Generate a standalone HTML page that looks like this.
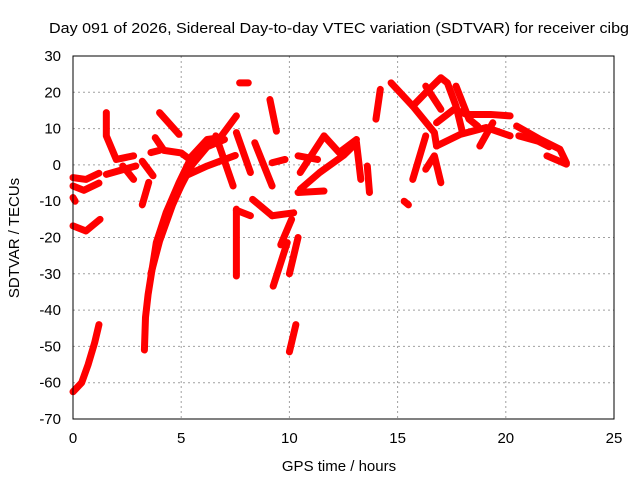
<!DOCTYPE html>
<html><head><meta charset="utf-8"><style>
body{margin:0;background:#fff;}
svg{display:block;font-family:"Liberation Sans",sans-serif;}
</style></head><body>
<svg id="chart" width="640" height="480" viewBox="0 0 640 480">
<rect width="640" height="480" fill="#fff"/>
<text x="339" y="33" font-size="15" text-anchor="middle" textLength="580" lengthAdjust="spacingAndGlyphs">Day 091 of 2026, Sidereal Day-to-day VTEC variation (SDTVAR) for receiver cibg</text>
<text x="339" y="471" font-size="15" text-anchor="middle">GPS time / hours</text>
<text transform="translate(19,238) rotate(-90)" font-size="15" text-anchor="middle">SDTVAR / TECUs</text>
<g id="grid"></g><g id="ticks"></g><g id="series"></g>
<rect x="73" y="56" width="541" height="363" fill="none" stroke="#000" stroke-width="1"/>
</svg>
<script>
const xTicks=[0,5,10,15,20,25];
const yTicks=[30,20,10,0,-10,-20,-30,-40,-50,-60,-70];
const tracks=[
[[0,-62.5],[0.4,-60],[0.7,-55],[1.0,-49],[1.2,-44]],
[[0,-3.5],[0.6,-4],[1.2,-2.3]],
[[0,-5.8],[0.5,-7],[1.2,-5]],
[[0,-9],[0.1,-10]],
[[0,-16.8],[0.6,-18.2],[1.25,-15]],
[[1.54,14.4],[1.54,8],[2,1.5],[2.8,2.5]],
[[1.54,-2.6],[2.9,-0.3]],
[[2.3,-0.3],[2.8,-4]],
[[4,14.4],[4.9,8.4]],
[[3.8,7.5],[4.2,4],[5,3.3],[5.4,1.5]],
[[3.6,3.4],[4,4]],
[[3.2,1],[3.7,-3]],
[[3.5,-4.8],[3.2,-11]],
[[3.3,-51],[3.35,-42],[3.47,-35.7],[3.85,-21.4],[4.3,-13.2],[4.9,-4.9],[5.5,2.5],[6.2,7],[6.8,7.5],[7.55,13.5]],
[[3.6,-30],[4,-21],[4.6,-11],[5.2,-3],[6.2,-0.3],[7.5,2.6]],
[[4.1,-18],[4.8,-8],[5.5,0],[6.2,5],[7,7]],
[[6.6,8],[7.4,-5.8]],
[[7.55,8.9],[8.2,-2.1]],
[[8.4,6.1],[9.2,-5.8]],
[[9.1,18],[9.4,9.3]],
[[9.2,0.6],[9.8,1.5]],
[[7.7,22.6],[8.1,22.6]],
[[7.55,-12.2],[7.55,-30.6]],
[[7.55,-12.5],[8.2,-14]],
[[8.3,-9.5],[9.2,-14]],
[[9.25,-33.4],[9.9,-21.4]],
[[9.2,-14],[10.2,-13.2]],
[[9.6,-22],[10.1,-15]],
[[10,-51.5],[10.3,-44]],
[[10,-30],[10.4,-20]],
[[10.4,-7.6],[11.6,-7.2]],
[[10.5,-2.1],[11.6,8],[12.3,3.4],[13.1,7]],
[[10.5,-6.7],[11.4,-2.1],[12.5,2.6],[13.1,6.1]],
[[13.1,6.1],[13.3,-4]],
[[13.6,-0.3],[13.7,-7.6]],
[[10.4,2.5],[11.3,1.5]],
[[14.2,20.8],[14,12.6]],
[[15.3,-10],[15.5,-11]],
[[14.7,22.6],[15.7,16.2],[16.7,8.9],[16.8,5.2]],
[[15.7,16.2],[16.3,19.9],[17,24],[17.3,22.6],[17.7,16.2],[18,8.9]],
[[17.7,21.7],[18.3,12.6],[18.7,10.7]],
[[16.3,21.7],[17,15.3]],
[[16.8,11.6],[17.6,15.3],[18.2,13.9],[19.3,13.9],[20.2,13.5]],
[[16.8,5.2],[17.9,8.4],[19.1,10.3],[20.2,8]],
[[18.8,5.2],[19.4,11.6]],
[[20.5,10.7],[21.6,7.0],[22.5,4.3],[22.8,0.6]],
[[20.6,8],[21.5,6.5],[22,5]],
[[21.9,2.5],[22.8,0.2]],
[[15.7,-4],[16.3,8]],
[[16.3,-1.2],[16.7,2.5],[17,-4.9]]
];
const NS="http://www.w3.org/2000/svg";
const X=h=>73+h*(541/25);
const Y=v=>56+(30-v)*(363/100);
const grid=document.getElementById('grid'),ticks=document.getElementById('ticks'),ser=document.getElementById('series');
xTicks.forEach(t=>{
 const l=document.createElementNS(NS,'line');
 
 
 l.setAttribute('x1',X(t));l.setAttribute('x2',X(t));l.setAttribute('y1',56);l.setAttribute('y2',419);
 l.setAttribute('stroke','#a0a0a0');l.setAttribute('stroke-dasharray','2,3');grid.appendChild(l);
 const tx=document.createElementNS(NS,'text');
 
 
 tx.setAttribute('x',X(t));tx.setAttribute('y',443);tx.setAttribute('font-size','15');tx.setAttribute('text-anchor','middle');
 tx.textContent=t;ticks.appendChild(tx);
});
yTicks.forEach(t=>{
 const l=document.createElementNS(NS,'line');
 
 
 l.setAttribute('x1',73);l.setAttribute('x2',614);l.setAttribute('y1',Y(t));l.setAttribute('y2',Y(t));
 l.setAttribute('stroke','#a0a0a0');l.setAttribute('stroke-dasharray','2,3');grid.appendChild(l);
 const tx=document.createElementNS(NS,'text');
 
 
 tx.setAttribute('x',61);tx.setAttribute('y',Y(t)+5);tx.setAttribute('font-size','15');tx.setAttribute('text-anchor','end');
 tx.textContent=t;ticks.appendChild(tx);
});
tracks.forEach(tr=>{
 const p=document.createElementNS(NS,'polyline');
 
 
 p.setAttribute('points',tr.map(d=>X(d[0])+','+Y(d[1])).join(' '));
 p.setAttribute('fill','none');p.setAttribute('stroke','#ff0000');p.setAttribute('stroke-width','7');
 p.setAttribute('stroke-linejoin','round');p.setAttribute('stroke-linecap','round');
 ser.appendChild(p);
});
</script>
</body></html>
